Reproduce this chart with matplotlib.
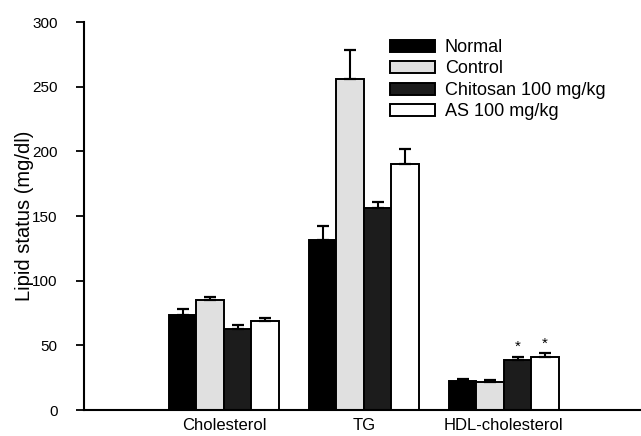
import matplotlib
matplotlib.use("Agg")
import matplotlib.pyplot as plt
import numpy as np

plt.rcParams['font.family'] = ['Liberation Sans', 'DejaVu Sans']

groups = ['Cholesterol', 'TG', 'HDL-cholesterol']
series = ['Normal', 'Control', 'Chitosan 100 mg/kg', 'AS 100 mg/kg']
means = [
    [73.5, 131.5, 22.7],
    [85.0, 256.0, 21.4],
    [63.0, 156.5, 38.7],
    [69.0, 190.0, 41.2],
]
errs = [
    [4.5, 10.5, 1.3],
    [2.3, 22.0, 1.8],
    [2.7, 4.5, 2.5],
    [2.4, 12.0, 2.6],
]
stars = [(2, 2), (3, 2)]  # (series, group)
yticks = [0, 50, 100, 150, 200, 250, 300]

colors = ['#000000', '#e0e0e0', '#1c1c1c', '#ffffff']

fig = plt.figure(figsize=(6.41, 4.36), dpi=100)
ax = fig.add_axes([0.131, 0.0596, 0.869, 0.8899])

x = np.arange(1, len(groups) + 1)
w = 0.196
for i, name in enumerate(series):
    pos = x + (i - 1.5) * w
    ax.bar(pos, means[i], w, color=colors[i], edgecolor='black', linewidth=1.4,
           label=name, zorder=2)
    ax.errorbar(pos, means[i], yerr=[np.zeros(len(groups)), errs[i]], fmt='none',
                ecolor='black', elinewidth=1.5, capsize=4.5, capthick=1.6, zorder=3)

for s, g in stars:
    px = x[g] + (s - 1.5) * w
    ax.text(px, means[s][g] + errs[s][g] + 2, '*', ha='center', va='bottom',
            fontsize=11, color='black')

ax.set_xlim(0, 3.98)
ax.set_ylim(0, 300)
ax.set_yticks(yticks)
ax.set_xticks(x)
ax.set_xticklabels(groups, fontsize=12)
ax.tick_params(axis='x', length=0, pad=6)
ax.tick_params(axis='y', direction='out', length=6, width=1.3, labelsize=11, pad=13)
ax.set_ylabel('Lipid status (mg/dl)', fontsize=14.5, labelpad=4)
ax.yaxis.set_label_coords(-0.09, 0.5)

ax.spines['top'].set_visible(False)
ax.spines['right'].set_visible(False)
ax.spines['left'].set_linewidth(1.5)
ax.spines['bottom'].set_linewidth(1.5)

ax.legend(loc='upper left', bbox_to_anchor=(0.536, 0.975), frameon=False,
          fontsize=13, handlelength=2.5, handleheight=0.65, labelspacing=0.25,
          handletextpad=0.55, borderaxespad=0)

fig.savefig('out.png', dpi=100)
